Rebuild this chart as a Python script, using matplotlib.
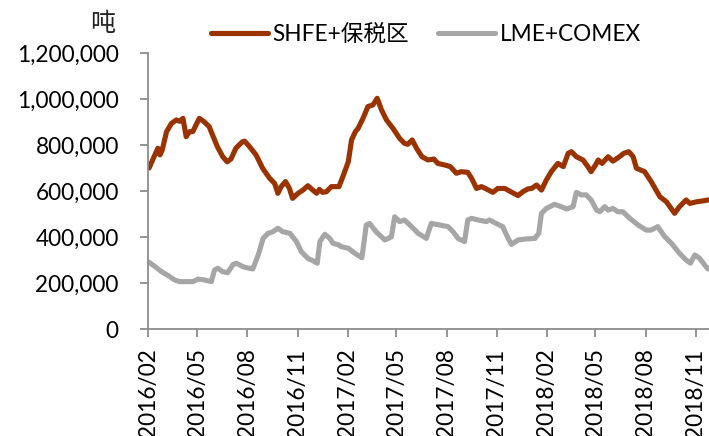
import matplotlib
matplotlib.use("Agg")
import matplotlib.pyplot as plt
from matplotlib.ticker import FuncFormatter
import numpy as np
import pandas as pd

plt.rcParams['font.family'] = ['Lato', 'Noto Sans CJK SC', 'DejaVu Sans']

# Weekly copper inventories (thousand tonnes)
shfe_dates = [
    "2016-02-03", "2016-02-19", "2016-02-23", "2016-02-27", "2016-03-06", "2016-03-15",
    "2016-03-24", "2016-03-30", "2016-04-05", "2016-04-11", "2016-04-17", "2016-04-23",
    "2016-05-05", "2016-05-14", "2016-05-23", "2016-06-02", "2016-06-07", "2016-06-17",
    "2016-06-25", "2016-07-02", "2016-07-11", "2016-07-23", "2016-07-27", "2016-08-05",
    "2016-08-17", "2016-08-29", "2016-09-11", "2016-09-20", "2016-09-26", "2016-10-02",
    "2016-10-10", "2016-10-17", "2016-10-23", "2016-11-02", "2016-11-11", "2016-11-20",
    "2016-11-29", "2016-12-06", "2016-12-11", "2016-12-17", "2016-12-24", "2017-01-02",
    "2017-01-16", "2017-01-23", "2017-02-02", "2017-02-08", "2017-02-15", "2017-02-20",
    "2017-03-01", "2017-03-10", "2017-03-19", "2017-03-27", "2017-04-04", "2017-04-13",
    "2017-04-25", "2017-05-07", "2017-05-16", "2017-05-22", "2017-05-30", "2017-06-07",
    "2017-06-17", "2017-06-28", "2017-07-09", "2017-07-16", "2017-07-29", "2017-08-08",
    "2017-08-19", "2017-08-28", "2017-09-09", "2017-09-16", "2017-09-25", "2017-10-04",
    "2017-10-13", "2017-10-25", "2017-11-03", "2017-11-16", "2017-11-25", "2017-12-10",
    "2017-12-19", "2017-12-28", "2018-01-04", "2018-01-13", "2018-01-22", "2018-01-31",
    "2018-02-09", "2018-02-21", "2018-03-03", "2018-03-12", "2018-03-18", "2018-03-27",
    "2018-04-08", "2018-04-17", "2018-04-23", "2018-05-01", "2018-05-06", "2018-05-13",
    "2018-05-24", "2018-06-02", "2018-06-11", "2018-06-22", "2018-07-01", "2018-07-09",
    "2018-07-15", "2018-07-30", "2018-08-11", "2018-08-27", "2018-09-08", "2018-09-23",
    "2018-10-02", "2018-10-14", "2018-10-21", "2018-11-02", "2018-11-14", "2018-11-23",
]
shfe_values = [
    700, 786, 757, 778, 858, 894,
    909, 903, 916, 836, 858, 858,
    916, 901, 880, 822, 793, 749,
    727, 739, 786, 814, 817, 793,
    757, 699, 655, 633, 590, 619,
    641, 612, 568, 590, 604, 623,
    604, 590, 607, 594, 597, 619,
    619, 662, 727, 822, 858, 872,
    916, 967, 974, 1003, 952, 909,
    872, 829, 807, 803, 822, 786,
    749, 735, 739, 720, 713, 706,
    677, 684, 681, 655, 611, 619,
    609, 594, 611, 611, 599, 580,
    597, 609, 611, 626, 604, 648,
    684, 720, 706, 764, 771, 749,
    735, 706, 684, 713, 735, 720,
    749, 730, 744, 764, 771, 749,
    699, 684, 641, 575, 553, 503,
    532, 561, 546, 553, 557, 561,
]

lme_dates = [
    "2016-02-03", "2016-02-14", "2016-02-26", "2016-03-09", "2016-03-21", "2016-03-30",
    "2016-04-11", "2016-04-23", "2016-05-03", "2016-05-15", "2016-05-27", "2016-06-02",
    "2016-06-08", "2016-06-17", "2016-06-26", "2016-07-06", "2016-07-12", "2016-07-24",
    "2016-07-30", "2016-08-11", "2016-08-21", "2016-08-30", "2016-09-08", "2016-09-17",
    "2016-09-26", "2016-10-05", "2016-10-18", "2016-10-30", "2016-11-08", "2016-11-20",
    "2016-11-29", "2016-12-07", "2016-12-12", "2016-12-21", "2016-12-30", "2017-01-05",
    "2017-01-16", "2017-01-20", "2017-02-02", "2017-02-14", "2017-02-27", "2017-03-07",
    "2017-03-13", "2017-03-25", "2017-04-10", "2017-04-22", "2017-04-28", "2017-05-07",
    "2017-05-16", "2017-05-29", "2017-06-10", "2017-06-25", "2017-07-04", "2017-07-20",
    "2017-08-04", "2017-08-13", "2017-08-22", "2017-09-03", "2017-09-09", "2017-09-16",
    "2017-09-28", "2017-10-13", "2017-10-19", "2017-10-31", "2017-11-12", "2017-11-22",
    "2017-11-28", "2017-12-10", "2017-12-22", "2018-01-10", "2018-01-17", "2018-01-22",
    "2018-01-31", "2018-02-15", "2018-02-27", "2018-03-09", "2018-03-21", "2018-03-27",
    "2018-04-05", "2018-04-14", "2018-04-23", "2018-05-03", "2018-05-09", "2018-05-18",
    "2018-05-24", "2018-06-02", "2018-06-11", "2018-06-20", "2018-07-03", "2018-07-18",
    "2018-08-02", "2018-08-11", "2018-08-23", "2018-09-05", "2018-09-17", "2018-10-02",
    "2018-10-14", "2018-10-22", "2018-10-30", "2018-11-08", "2018-11-17", "2018-11-23",
]
lme_values = [
    290, 271, 249, 232, 213, 206,
    206, 206, 217, 213, 206, 257,
    264, 249, 245, 281, 286, 271,
    267, 261, 322, 394, 416, 423,
    438, 423, 416, 380, 336, 307,
    297, 286, 380, 412, 394, 373,
    365, 358, 351, 329, 310, 452,
    459, 423, 387, 401, 488, 467,
    474, 445, 416, 394, 459, 452,
    445, 423, 394, 380, 474, 481,
    474, 467, 474, 459, 445, 394,
    368, 387, 391, 394, 416, 503,
    524, 542, 532, 522, 532, 594,
    583, 583, 561, 517, 510, 532,
    517, 524, 510, 510, 481, 452,
    430, 430, 445, 401, 373, 329,
    300, 286, 322, 307, 278, 261,
]

series_labels = ["SHFE+保税区", "LME+COMEX"]
tick_months = ["2016/02", "2016/05", "2016/08", "2016/11", "2017/02", "2017/05",
               "2017/08", "2017/11", "2018/02", "2018/05", "2018/08", "2018/11"]
unit_label = "吨"

red = "#9A3300"
grey = "#A6A6A6"
axis_grey = "#8C8C8C"
fs = 16.3

fig = plt.figure(figsize=(7.09, 4.36), dpi=100)
ax = fig.add_axes([148 / 709, 1 - 329 / 436, 1 - 148 / 709, (329 - 53) / 436])

ax.plot(pd.to_datetime(shfe_dates), np.array(shfe_values) * 1000, color=red,
        lw=3.7, solid_joinstyle="round", solid_capstyle="round", label=series_labels[0])
ax.plot(pd.to_datetime(lme_dates), np.array(lme_values) * 1000, color=grey,
        lw=3.7, solid_joinstyle="round", solid_capstyle="round", label=series_labels[1])

ax.set_ylim(0, 1_200_000)
ax.set_yticks(np.arange(0, 1_200_001, 200_000))
ax.yaxis.set_major_formatter(FuncFormatter(lambda v, p: f"{int(v):,}"))

tick_dates = pd.to_datetime([t.replace("/", "-") + "-01" for t in tick_months])
ax.set_xticks(tick_dates)
ax.set_xticklabels(tick_months, rotation=90)
ax.set_xlim(pd.Timestamp("2016-02-01"), pd.Timestamp("2018-11-25"))

for s in ["top", "right"]:
    ax.spines[s].set_visible(False)
for s in ["left", "bottom"]:
    ax.spines[s].set_color(axis_grey)
    ax.spines[s].set_linewidth(1.3)

ax.tick_params(axis="y", direction="out", length=6, width=1.3, color=axis_grey,
               labelsize=fs, pad=15, labelcolor="black")
ax.tick_params(axis="x", direction="out", length=6, width=1.3, color=axis_grey,
               labelsize=fs, pad=8, labelcolor="black")

fig.text(103 / 709, 1 - 24 / 436, unit_label, ha="center", va="center",
         fontsize=18, family=["Noto Sans CJK SC"], color="#222222")

leg = fig.legend(loc="center", bbox_to_anchor=(426 / 709, 1 - 34 / 436), ncol=2,
                 frameon=False, fontsize=fs, handlelength=2.5, handletextpad=0.2,
                 columnspacing=1.3, borderaxespad=0)

fig.savefig("out.png", dpi=100)
